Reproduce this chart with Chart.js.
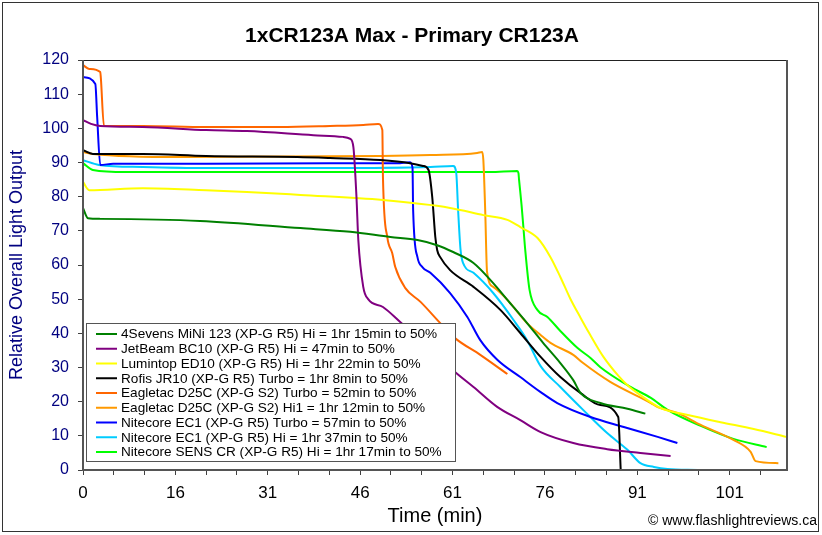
<!DOCTYPE html>
<html>
<head>
<meta charset="utf-8">
<script src="https://cdn.jsdelivr.net/npm/chart.js@4.4.1/dist/chart.umd.min.js"></script>
<style>
  html, body { margin: 0; padding: 0; background: #fff; }
  #wrap { width: 822px; height: 535px; }
</style>
</head>
<body>
<div id="wrap"><canvas id="runtimeChart" width="822" height="535"></canvas></div>
<script>
// Tick labels along the time axis (every third tick carries one)
const xTickLabels = ['0', '16', '31', '46', '61', '76', '91', '101'];

const seriesNames = [
  '4Sevens MiNi 123 (XP-G R5) Hi = 1hr 15min to 50%',
  'JetBeam BC10 (XP-G R5) Hi = 47min to 50%',
  'Lumintop ED10 (XP-G R5) Hi = 1hr 22min to 50%',
  'Rofis JR10 (XP-G R5) Turbo = 1hr 8min to 50%',
  'Eagletac D25C (XP-G S2) Turbo = 52min to 50%',
  'Eagletac D25C (XP-G S2) Hi1 = 1hr 12min to 50%',
  'Nitecore EC1 (XP-G R5) Turbo = 57min to 50%',
  'Nitecore EC1 (XP-G R5) Hi = 1hr 37min to 50%',
  'Nitecore SENS CR (XP-G R5) Hi = 1hr 17min to 50%'
];

const seriesColors = ['#008000', '#800080', '#ffff00', '#000000', '#ff6600',
                      '#ff9900', '#0000ff', '#00ccff', '#00ff00'];

// [time, relative output]
const sevensMini = [[0,76.7],[0.8,73.7],[2.8,73.5],[19,72.9],[35.3,70.8],[43.4,69.7],[49.9,68.2],
  [54.3,67.3],[57.5,65.8],[60.1,63.8],[63.4,60.6],[66.6,54.7],[68.9,49.8],[72.1,43],[74.7,37.2],
  [77.5,31.3],[79.6,26.3],[80.8,22.5],[84,19.6],[88.4,17.9],[91.3,16.5]];

const jetbeamHi = [[0,102.4],[1.3,101.3],[2.8,100.7],[9.7,100.4],[20,99.5],[26.6,99.2],[37.4,98],
  [42.2,97.5],[43.4,96.9],[43.9,94.5],[44.4,79.9],[44.7,67.3],[45.5,53.6],[46.3,50],[48.7,47.7],
  [51.5,43.3],[60.4,28.7],[63.4,24.3],[67.3,18.4],[71,14.6],[74.3,11.1],[79.6,7.9],[85.1,6.1],
  [90.5,5],[95.4,4.1]];

const lumintopHi = [[0,84.3],[1,81.9],[9.7,82.5],[20,81.9],[26.6,81.4],[35.3,80.5],[48.7,79],
  [59.6,76.7],[65,74.6],[68.9,73.2],[71,71.1],[73.8,67.9],[75.9,62.3],[77.5,56.5],[79.1,50.2],
  [80.8,44.5],[82.2,40],[84.5,33.1],[86.9,27.6],[88.4,24.8],[90.5,21.9],[93.8,18.1],[98.2,16.1],
  [103.5,14],[108.9,12],[114.2,9.7]];

const rofisTurbo = [[0,93.6],[1.6,92.5],[9.7,92.5],[20,91.9],[34.8,91.6],[40.1,91.3],[48.3,90.7],
  [53.1,89.8],[55.2,89],[56.1,87.8],[56.7,79.9],[57.2,68.2],[57.5,64.4],[58,62.3],[59.6,58.5],
  [63.4,53.6],[67.8,46.8],[71,40.1],[74.3,33.1],[77.5,27.2],[80.8,22.5],[84,19],[86.9,15.5],[87.3,0]];

const eagletacTurbo = [[0,118.5],[1,117.4],[2.8,116.5],[2.9,114.7],[3.4,100.7],[9.7,100.7],[20,100.4],
  [32,100.4],[40.1,100.7],[45.5,101],[47.9,101.3],[48.6,99.5],[48.7,85.7],[49.4,68.2],[50.2,63.5],
  [50.7,59.4],[52.3,53.3],[54.8,49.2],[58,43],[60.4,38.6],[64.5,33.7],[68.9,28.1]];

const eagletacHi1 = [[0,93.1],[1.6,92.5],[15.8,91.6],[48.3,91.9],[56.4,92.2],[64,92.8],[64.8,93.1],
  [65,90.7],[65.3,76.1],[65.6,58],[66.6,53.6],[67.8,51.8],[68.9,49.8],[72.1,43],[74.3,39.5],
  [75.9,37.2],[79.6,33.7],[81.2,31.3],[85.6,25.8],[92.2,19.6],[93.3,18.4],[96.5,16.7],[100.3,13.2],
  [105.6,8.8],[108.4,5.3],[109.2,2.6],[112.9,2]];

const nitecoreTurbo = [[0,115],[2,113],[2.3,103.3],[2.8,89.3],[4.9,89.6],[20,89.6],[40.1,89.8],
  [51,89.8],[53.1,90.1],[53.5,88.4],[53.6,76.1],[54.3,62.3],[55.1,59.4],[56.4,57.7],[59.6,51.8],
  [62.4,44.8],[64.5,38],[67.3,32.2],[71,27.2],[74.3,22.8],[77,19.6],[82.4,15.5],[87.8,12.6],
  [93.3,9.7],[96.5,7.9]];

const nitecoreHi = [[0,90.7],[2.6,89.3],[9.7,88.7],[20,88.4],[40.1,88.4],[56.4,88.7],[60.1,89],
  [60.6,86.9],[60.9,76.1],[61.3,64.4],[61.7,60.6],[63.4,57.7],[66.6,51.8],[69.9,43.9],[72.1,38],
  [74.3,30.4],[77.5,24.3],[81.2,17.6],[85.1,10.8],[88.4,5.9],[90.5,2],[92.7,0.9],[94.9,0.3],[99.8,0]];

const sensHi = [[0,89.8],[1.6,87.8],[7,87.2],[40.1,87.2],[66.1,87.2],[70.5,87.5],[70.7,86.9],
  [70.8,84.9],[71.2,77.6],[71.5,71.1],[71.8,64.4],[72.5,52.7],[73.8,46.8],[75.4,44.8],[77.5,40.7],
  [80.3,35.7],[82.4,32.8],[84,30.1],[88.9,24.3],[92.2,21.1],[94.9,17.6],[100.3,12.9],[105.6,9.1],
  [111,6.7]];

const allSeries = [sevensMini, jetbeamHi, lumintopHi, rofisTurbo, eagletacTurbo,
                   eagletacHi1, nitecoreTurbo, nitecoreHi, sensHi];

const FONT = '"Liberation Sans", Arial, sans-serif';
Chart.defaults.font.family = FONT;

// white page, plot frame, boxed legend over the curves, title and credit
const decorations = {
  id: 'decorations',
  beforeDraw(chart) {
    const ctx = chart.ctx;
    ctx.save();
    ctx.fillStyle = '#fff';
    ctx.fillRect(0, 0, chart.width, chart.height);
    ctx.restore();
  },
  afterDatasetsDraw(chart) {
    const ctx = chart.ctx;
    const a = chart.chartArea;
    ctx.save();
    // frame
    ctx.strokeStyle = '#222';
    ctx.lineWidth = 1;
    ctx.beginPath();
    ctx.moveTo(a.left, a.top + 0.5);
    ctx.lineTo(a.right, a.top + 0.5);
    ctx.stroke();
    ctx.strokeStyle = '#555';
    ctx.lineWidth = 2;
    ctx.beginPath();
    ctx.moveTo(a.left, a.top);
    ctx.lineTo(a.left, a.bottom);
    ctx.lineTo(a.right, a.bottom);
    ctx.lineTo(a.right, a.top);
    ctx.stroke();

    // legend box
    const bx = 86, by = 323, bw = 369, bh = 138;
    ctx.fillStyle = '#fff';
    ctx.fillRect(bx, by, bw, bh);
    ctx.strokeStyle = '#555';
    ctx.lineWidth = 1;
    ctx.strokeRect(bx + 0.5, by + 0.5, bw, bh);
    ctx.font = '13.6px ' + FONT;
    ctx.textBaseline = 'middle';
    ctx.textAlign = 'left';
    chart.data.datasets.forEach((ds, i) => {
      const ry = 334 + i * 14.75;
      ctx.strokeStyle = ds.borderColor;
      ctx.lineWidth = 2;
      ctx.beginPath();
      ctx.moveTo(96, ry);
      ctx.lineTo(117, ry);
      ctx.stroke();
      ctx.fillStyle = '#000';
      ctx.fillText(ds.label, 121, ry + 0.5);
    });
    ctx.restore();
  },
  afterDraw(chart) {
    const ctx = chart.ctx;
    ctx.save();
    ctx.fillStyle = '#000';
    ctx.textBaseline = 'middle';
    ctx.textAlign = 'center';
    ctx.font = 'bold 21px ' + FONT;
    ctx.fillText('1xCR123A Max - Primary CR123A', 412, 36);
    ctx.textAlign = 'right';
    ctx.font = '14px ' + FONT;
    ctx.fillText('\u00a9 www.flashlightreviews.ca', 817, 521);
    // outer picture border
    ctx.strokeStyle = '#333';
    ctx.lineWidth = 1;
    ctx.strokeRect(2.5, 2.5, 816, 529);
    ctx.restore();
  }
};

new Chart(document.getElementById('runtimeChart'), {
  type: 'line',
  plugins: [decorations],
  data: {
    datasets: allSeries.map((pts, i) => ({
      label: seriesNames[i],
      data: pts.map(([t, v]) => ({ x: t, y: v })),
      borderColor: seriesColors[i],
      backgroundColor: seriesColors[i],
      borderWidth: 2,
      pointRadius: 0,
      fill: false,
      cubicInterpolationMode: 'monotone'
    }))
  },
  options: {
    responsive: false,
    animation: false,
    devicePixelRatio: 1,
    layout: { padding: { top: 60, right: 35, left: 0, bottom: 0 } },
    plugins: {
      legend: { display: false },
      title: { display: false },
      tooltip: { enabled: false }
    },
    scales: {
      x: {
        type: 'linear',
        min: 0,
        max: 114.3,
        afterBuildTicks: (s) => {
          s.ticks = [];
          for (let v = 0; v <= 110; v += 5) s.ticks.push({ value: v });
        },
        afterFit: (s) => { s.height = 65; },
        ticks: {
          autoSkip: false,
          maxRotation: 0,
          padding: 8,
          color: '#000',
          font: { size: 17 },
          callback: (v) => (v % 15 === 0 ? xTickLabels[v / 15] : '')
        },
        grid: { drawOnChartArea: false, drawTicks: true, tickLength: 5, color: '#404040' },
        border: { display: false },
        title: {
          display: true,
          text: 'Time (min)',
          color: '#000',
          font: { size: 20 },
          padding: { top: 0, bottom: 7 }
        }
      },
      y: {
        min: 0,
        max: 120,
        afterFit: (s) => { s.width = 83; },
        ticks: { stepSize: 10, padding: 9, color: '#000080', font: { size: 16 } },
        grid: { drawOnChartArea: false, drawTicks: true, tickLength: 5, color: '#404040' },
        border: { display: false },
        title: {
          display: true,
          text: 'Relative Overall Light Output',
          color: '#000080',
          font: { size: 18 },
          padding: { top: 6, bottom: 0 }
        }
      }
    }
  }
});
</script>
</body>
</html>
